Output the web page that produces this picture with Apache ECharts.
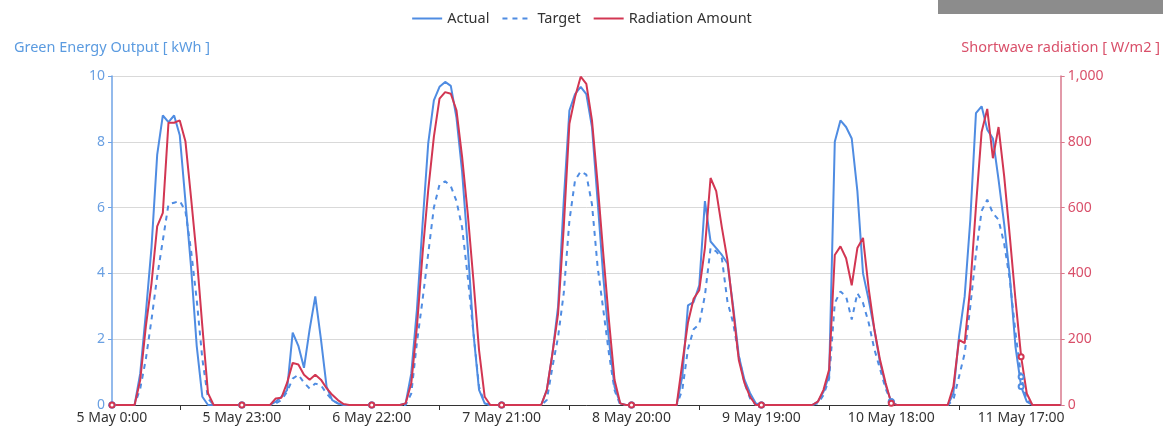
<!DOCTYPE html>
<html><head><meta charset="utf-8">
<script src="https://cdn.jsdelivr.net/npm/echarts@6/dist/echarts.min.js"></script>
<style>html,body{margin:0;padding:0;background:#fff}#c{width:1163px;height:427px}</style>
</head><body><div id="c"></div><script>
// hourly categories from 5 May 0:00 to 12 May 0:00
const categories = [];
for (let d = 5; d <= 12; d++) {
  for (let h = 0; h < 24; h++) {
    if (d === 12 && h > 0) break;
    categories.push(d + ' May ' + h + ':00');
  }
}
const seriesNames = ['Actual', 'Target', 'Radiation Amount'];
const actual = [
  0,0,0,0,0,
  0.96,2.8,4.8,7.6,8.8,8.6,8.8,8.2,6.2,4.2,1.8,0.25,0,
  0,0,0,0,0,0,0,0,0,0,0,
  0.1,0.25,0.45,2.2,1.8,1.13,2.3,3.3,2.0,0.56,0.15,0.05,0,
  0,0,0,0,0,0,0,0,0,0,0.05,
  0.96,2.9,5.5,7.95,9.26,9.67,9.82,9.7,8.74,7.1,4.8,2.2,0.46,0.05,0,
  0,0,0,0,0,0,0,0,0,
  0.45,1.57,3.0,6.2,8.95,9.45,9.67,9.45,8.45,6.2,3.9,1.97,0.55,0.05,0,
  0,0,0,0,0,0,0,0,0,
  0.87,3.03,3.13,3.64,6.2,4.97,4.77,4.56,4.3,3.0,1.49,0.77,0.36,0.05,0,
  0,0,0,0,0,0,0,0,0,
  0.1,0.4,0.9,8.0,8.65,8.45,8.1,6.5,4.0,3.2,2.3,1.3,0.6,0.1,0,
  0,0,0,0,0,0,0,0,0,
  0.35,2.08,3.3,5.63,8.87,9.08,8.37,8.1,6.85,5.5,3.9,1.77,0.56,0.1,0,
  0,0,0,0,0
];
const target = [
  0,0,0,0,0,
  0.5,1.4,2.6,3.9,5.0,6.1,6.15,6.2,5.9,4.7,3.2,1.4,0.2,
  0,0,0,0,0,0,0,0,0,0,0,
  0.05,0.15,0.4,0.8,0.92,0.68,0.5,0.65,0.6,0.35,0.15,0.05,0,
  0,0,0,0,0,0,0,0,0,0,0,
  0.35,1.9,3.2,4.6,6.0,6.7,6.8,6.65,6.2,5.4,3.9,2.2,0.55,0.05,0,
  0,0,0,0,0,0,0,0,0,
  0.15,1.16,2.07,3.4,5.6,6.83,7.1,7.0,6.1,4.2,2.9,1.57,0.45,0,0,
  0,0,0,0,0,0,0,0,0,
  0.46,1.7,2.3,2.46,3.33,4.77,4.67,4.46,3.13,2.5,1.49,0.67,0.2,0,0,
  0,0,0,0,0,0,0,0,0,
  0.05,0.3,0.8,3.1,3.45,3.3,2.6,3.4,3.1,2.5,1.7,1.1,0.5,0.1,0,
  0,0,0,0,0,0,0,0,0,
  0.15,0.86,1.57,3.0,4.6,5.9,6.24,5.83,5.63,4.9,3.8,2.2,0.86,0.15,0,
  0,0,0,0,0
];
const radiation = [
  0,0,0,0,0,
  76,240,370,543,584,858,858,865,802,630,452,239,36,
  0,0,0,0,0,0,0,0,0,0,0,
  20,22,67,128,123,92,77,92,77,51,31,15,3,
  0,0,0,0,0,0,0,0,0,0,5,
  66,238,460,653,815,931,951,946,896,754,582,380,167,25,0,
  0,0,0,0,0,0,0,0,0,
  45,157,278,540,855,936,998,976,865,673,460,258,76,5,0,
  0,0,0,0,0,0,0,0,0,
  128,251,323,349,477,690,650,540,440,289,137,67,25,0,0,
  0,0,0,0,0,0,0,0,0,
  10,46,108,456,482,446,364,477,508,354,231,138,67,5,0,
  0,0,0,0,0,0,0,0,0,
  56,198,188,360,603,830,900,750,845,695,512,320,147,35,0,
  0,0,0,0,0
];
const leftTicks = [0, 10, 2];
const rightTicks = [0, 1000, 200];
const axisNames = ['Green Energy Output [ kWh ]', 'Shortwave radiation [ W/m2 ]'];

const BLUE = '#4f8ce2';
const RED = '#d23652';
const FONT = 'Noto Sans';

const chart = echarts.init(document.getElementById('c'), null, {renderer: 'canvas'});
chart.setOption({
  animation: false,
  textStyle: {fontFamily: FONT},
  graphic: [{type: 'rect', left: 938, top: 0, shape: {width: 225, height: 14}, style: {fill: '#8c8c8c'}}],
  legend: {
    top: 6, left: 'center',
    itemWidth: 30, itemHeight: 14, itemGap: 12,
    itemStyle: {opacity: 0},
    textStyle: {color: '#333', fontSize: 14.5, fontFamily: FONT},
    data: seriesNames
  },
  grid: {left: 112, right: 101, top: 76, bottom: 22},
  xAxis: {
    type: 'category', data: categories, boundaryGap: false,
    axisLine: {lineStyle: {color: '#333', width: 1}},
    axisTick: {show: true, length: 5, interval: function (i) { return i % 23 === 12; }, lineStyle: {color: '#333'}},
    axisLabel: {interval: 22, color: '#333', fontSize: 14, margin: 6, fontFamily: FONT},
    splitLine: {show: false}
  },
  yAxis: [{
    type: 'value', min: leftTicks[0], max: leftTicks[1], interval: leftTicks[2],
    name: axisNames[0], nameLocation: 'end', nameGap: 21,
    nameTextStyle: {color: '#5b9be0', fontSize: 14.5, fontFamily: FONT},
    axisLine: {show: true, lineStyle: {color: '#6fa3e6', width: 1.5}},
    axisTick: {show: true, length: 4, lineStyle: {color: '#6fa3e6'}},
    axisLabel: {color: '#6aa0e2', fontSize: 14, margin: 7, fontFamily: FONT},
    splitLine: {show: true, lineStyle: {color: '#d9d9d9', width: 1}}
  }, {
    type: 'value', min: rightTicks[0], max: rightTicks[1], interval: rightTicks[2],
    name: axisNames[1], nameLocation: 'end', nameGap: 21,
    nameTextStyle: {color: '#d9506a', fontSize: 14.5, fontFamily: FONT},
    axisLine: {show: true, lineStyle: {color: '#d9788c', width: 1.5}},
    axisTick: {show: true, length: 4, lineStyle: {color: '#d9788c'}},
    axisLabel: {color: '#d9506a', fontSize: 14, margin: 7, fontFamily: FONT},
    splitLine: {show: false}
  }],
  series: [{
    name: seriesNames[0], type: 'line', yAxisIndex: 0, data: actual,
    symbol: 'emptyCircle', symbolSize: 5,
    itemStyle: {color: BLUE}, lineStyle: {color: BLUE, width: 2}
  }, {
    name: seriesNames[1], type: 'line', yAxisIndex: 0, data: target,
    symbol: 'emptyCircle', symbolSize: 5,
    itemStyle: {color: BLUE}, lineStyle: {color: BLUE, width: 2, type: [5, 5]}
  }, {
    name: seriesNames[2], type: 'line', yAxisIndex: 1, data: radiation,
    symbol: 'emptyCircle', symbolSize: 5,
    itemStyle: {color: RED}, lineStyle: {color: RED, width: 2}
  }]
});
</script></body></html>
